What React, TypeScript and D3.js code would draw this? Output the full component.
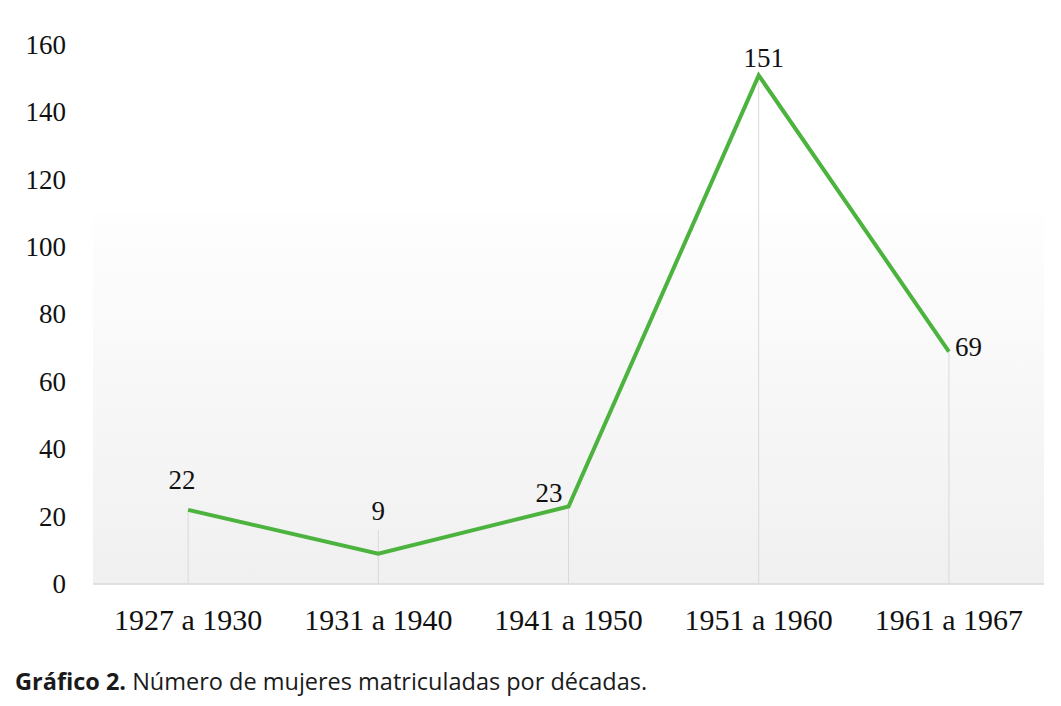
import * as d3 from "d3";
import React from "react";

const categories = ["1927 a 1930", "1931 a 1940", "1941 a 1950", "1951 a 1960", "1961 a 1967"];
const values = [22, 9, 23, 151, 69];
const yTicks = [0, 20, 40, 60, 80, 100, 120, 140, 160];
// where each value label sits relative to its point
const labelPlace = ["above", "above", "left", "above", "right"];

const width = 1061;
const height = 706;
const marginLeft = 93;
const marginRight = 17;
const serif = "'Liberation Serif', 'Times New Roman', serif";

export default function App() {
  const x = d3
    .scaleBand<string>()
    .domain(categories)
    .range([marginLeft, width - marginRight]);
  const y = d3.scaleLinear().domain([0, 160]).range([584, 45]);
  const cx = (c: string) => (x(c) as number) + x.bandwidth() / 2;

  const line = d3
    .line<number>()
    .x((_, i) => cx(categories[i]))
    .y((d) => y(d));

  return (
    <svg
      width={width}
      height={height}
      style={{ position: "absolute", left: 0, top: 0, background: "#fff" }}
    >
      <defs>
        <linearGradient id="bg" x1="0" y1="0" x2="0" y2="1">
          <stop offset="0" stopColor="#fefefe" />
          <stop offset="1" stopColor="#f0f0f0" />
        </linearGradient>
      </defs>
      <rect
        x={marginLeft}
        y={y(110)}
        width={width - marginRight - marginLeft}
        height={y(0) - y(110)}
        fill="url(#bg)"
      />
      <line
        x1={marginLeft}
        x2={width - marginRight}
        y1={y(0)}
        y2={y(0)}
        stroke="#d9d9d9"
        strokeWidth={1.5}
      />
      {categories.map((c, i) => (
        <line
          key={c}
          x1={cx(c)}
          x2={cx(c)}
          y1={y(0)}
          y2={Math.min(y(values[i]), y(16))}
          stroke="#d9d9d9"
          strokeWidth={1}
        />
      ))}
      {yTicks.map((t) => (
        <text
          key={t}
          x={66}
          y={y(t)}
          dy="0.33em"
          textAnchor="end"
          fontFamily={serif}
          fontSize={27}
          fill="#111"
        >
          {t}
        </text>
      ))}
      {categories.map((c) => (
        <text
          key={c}
          x={cx(c)}
          y={630}
          textAnchor="middle"
          fontFamily={serif}
          fontSize={30}
          fill="#111"
        >
          {c}
        </text>
      ))}
      <path
        d={line(values) as string}
        fill="none"
        stroke="#4cb33e"
        strokeWidth={4}
        strokeLinejoin="miter"
      />
      {values.map((v, i) => {
        const px = cx(categories[i]);
        const py = y(v);
        const place = labelPlace[i];
        let lx = px;
        let ly = py - 21;
        let anchor = "middle";
        if (place === "left") {
          lx = px - 6;
          ly = py - 5;
          anchor = "end";
        } else if (place === "right") {
          lx = px + 6;
          ly = py + 4;
          anchor = "start";
        } else if (v < 15) {
          ly = py - 34;
        }
        if (i === 0) lx = px - 6;
        if (i === 3) {
          lx = px + 5;
          ly = py - 8;
        }
        return (
          <text
            key={i}
            x={lx}
            y={ly}
            textAnchor={anchor}
            fontFamily={serif}
            fontSize={27}
            fill="#111"
          >
            {v}
          </text>
        );
      })}
      <text x={15} y={690} fontFamily="'Open Sans', 'Noto Sans', sans-serif" fontSize={23.5} fill="#1a1a1a">
        <tspan fontWeight="bold">Gráfico 2.</tspan> Número de mujeres matriculadas por décadas.
      </text>
    </svg>
  );
}
